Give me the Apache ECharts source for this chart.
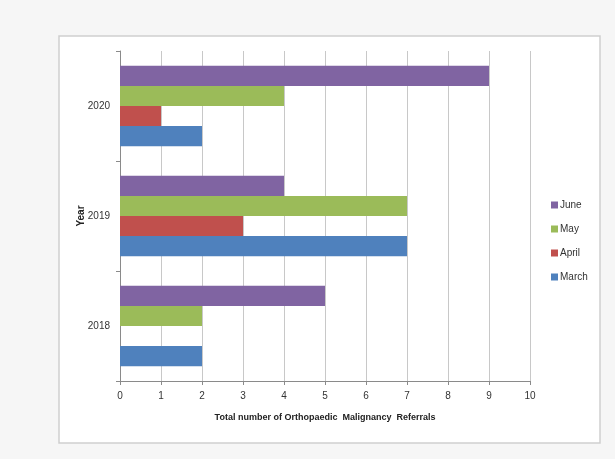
<!DOCTYPE html>
<html>
<head>
<meta charset="utf-8">
<script src="https://cdn.jsdelivr.net/npm/echarts@6/dist/echarts.min.js"></script>
<style>
  html, body { margin: 0; padding: 0; background: #f6f6f6; }
  #main { width: 615px; height: 459px; }
</style>
</head>
<body>
<div id="main"></div>
<script>
// 年份与月份
var years = ['2018', '2019', '2020'];
var months = ['June', 'May', 'April', 'March'];
var colors = ['#8064A2', '#9BBB59', '#C0504D', '#4F81BD'];

// 每月转诊数（按年份 2018, 2019, 2020）
var june = [5, 4, 9];
var may = [2, 7, 4];
var april = [0, 3, 1];
var march = [2, 7, 2];

var xTicks = [0, 10, 1]; // min, max, interval

(function(){

    var myChart = echarts.init(document.getElementById("main"));
    var values = [june, may, april, march];

    var series = months.map(function(m, i){
        return {
            name: m,
            type: 'bar',
            data: values[i],
            barGap: 0,
            barCategoryGap: '27%',
            itemStyle: { color: colors[i] }
        };
    });

    option = {
        textStyle: { fontFamily: 'Liberation Sans' },
        graphic: [{
            type: 'rect',
            shape: { x: 59, y: 36, width: 541, height: 407 },
            style: { fill: '#ffffff', stroke: '#cfcfcf', lineWidth: 1.5 },
            z: -10
        }],
        legend: {
            orient: 'vertical',
            left: 546,
            top: 195,
            itemWidth: 7,
            itemHeight: 7,
            itemGap: 14,
            icon: 'rect',
            data: months,
            textStyle: { fontSize: 10, color: '#333', padding: [0, 0, 0, -3] }
        },
        grid: {
            left: 120,
            right: 85,
            top: 51,
            bottom: 78
        },
        xAxis: {
            type: 'value',
            min: xTicks[0],
            max: xTicks[1],
            interval: xTicks[2],
            name: 'Total number of Orthopaedic  Malignancy  Referrals',
            nameLocation: 'middle',
            nameGap: 32,
            nameTextStyle: { fontSize: 9, fontWeight: 'bold', color: '#222' },
            axisLine: { show: true, lineStyle: { color: '#8a8a8a' } },
            axisTick: { show: true, length: 4, lineStyle: { color: '#8a8a8a' } },
            axisLabel: { fontSize: 10, color: '#333', margin: 10 },
            splitLine: { show: true, lineStyle: { color: '#c8c8c8' } }
        },
        yAxis: {
            type: 'category',
            data: years,
            name: 'Year',
            nameLocation: 'middle',
            nameGap: 34,
            nameMoveOverlap: false,
            nameRotate: 90,
            nameTextStyle: { fontSize: 10, fontWeight: 'bold', color: '#222' },
            axisLine: { show: true, lineStyle: { color: '#8a8a8a' } },
            axisTick: { show: true, length: 4, lineStyle: { color: '#8a8a8a' } },
            axisLabel: { fontSize: 10, color: '#333', margin: 10 },
            splitLine: { show: false }
        },
        series: series
    };

    myChart.setOption(option);
})();
</script>
</body>
</html>
